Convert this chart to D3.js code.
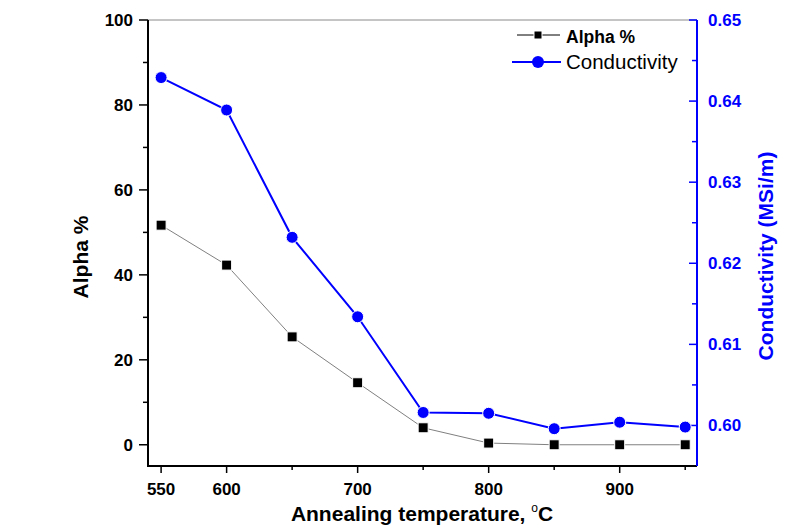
<!DOCTYPE html>
<html>
<head>
<meta charset="utf-8">
<script src="https://cdn.jsdelivr.net/npm/d3@7"></script>
<style>
  html, body { margin: 0; padding: 0; background: #ffffff; }
  svg { display: block; font-family: "Liberation Sans", Arial, sans-serif; }
</style>
</head>
<body>
<svg id="chart" width="787" height="529"></svg>
<script>
// Annealing temperature (°C)
const temperatures = [550, 600, 650, 700, 750, 800, 850, 900, 950];
// Alpha phase fraction (%)
const alphaPercent = [51.7, 42.3, 25.4, 14.6, 4.0, 0.4, 0.0, 0.0, 0.0];
// Electrical conductivity (MSi/m)
const conductivity = [0.6429, 0.6389, 0.6232, 0.6134, 0.6016, 0.6015, 0.5996, 0.6004, 0.5998];

const xLabelTicks = [550, 600, 700, 800, 900];
const xShortTicks = [650, 750, 850, 950];
const yLeftMajor = [0, 20, 40, 60, 80, 100];
const yLeftMinor = [10, 30, 50, 70, 90];
const yRightMajor = [0.60, 0.61, 0.62, 0.63, 0.64, 0.65];
const yRightMinor = [0.605, 0.615, 0.625, 0.635, 0.645];

const svg = d3.select("#chart");
const pL = 148, pR = 697, pT = 20, pB = 466;
const BLUE = "#0000ff";

const x = d3.scaleLinear().domain([540, 959]).range([pL, pR]);
const yL = d3.scaleLinear().domain([-5, 100]).range([pB, pT]);
const yR = d3.scaleLinear().domain([0.595, 0.65]).range([pB, pT]);

svg.append("rect").attr("width", 787).attr("height", 529).attr("fill", "#ffffff");

// frame top line
svg.append("line").attr("x1", pL).attr("x2", pR).attr("y1", pT).attr("y2", pT)
  .attr("stroke", "#8a8a8a").attr("stroke-width", 1);

// bottom axis
const gx = svg.append("g");
gx.append("line").attr("x1", pL - 1).attr("x2", pR).attr("y1", pB).attr("y2", pB)
  .attr("stroke", "#000").attr("stroke-width", 2);
gx.selectAll("line.maj").data(xLabelTicks).join("line").attr("class", "maj")
  .attr("x1", d => x(d)).attr("x2", d => x(d)).attr("y1", pB).attr("y2", pB + 7)
  .attr("stroke", "#000").attr("stroke-width", 1.5);
gx.selectAll("line.min").data(xShortTicks).join("line").attr("class", "min")
  .attr("x1", d => x(d)).attr("x2", d => x(d)).attr("y1", pB).attr("y2", pB + 4)
  .attr("stroke", "#000").attr("stroke-width", 1.5);
gx.selectAll("text").data(xLabelTicks).join("text")
  .attr("x", d => x(d)).attr("y", 495).attr("text-anchor", "middle")
  .attr("font-size", 17).attr("font-weight", "bold").attr("fill", "#000")
  .text(d => d);

// left axis
const gl = svg.append("g");
gl.append("line").attr("x1", pL).attr("x2", pL).attr("y1", pT).attr("y2", pB + 1)
  .attr("stroke", "#000").attr("stroke-width", 2);
gl.selectAll("line.maj").data(yLeftMajor).join("line").attr("class", "maj")
  .attr("x1", pL - 9).attr("x2", pL).attr("y1", d => yL(d)).attr("y2", d => yL(d))
  .attr("stroke", "#000").attr("stroke-width", 1.5);
gl.selectAll("line.min").data(yLeftMinor).join("line").attr("class", "min")
  .attr("x1", pL - 5).attr("x2", pL).attr("y1", d => yL(d)).attr("y2", d => yL(d))
  .attr("stroke", "#000").attr("stroke-width", 1.5);
gl.selectAll("text").data(yLeftMajor).join("text")
  .attr("x", 133).attr("y", d => yL(d) + 6).attr("text-anchor", "end")
  .attr("font-size", 17).attr("font-weight", "bold").attr("fill", "#000")
  .text(d => d);
svg.append("text")
  .attr("transform", "translate(88,257) rotate(-90)")
  .attr("text-anchor", "middle").attr("font-size", 21).attr("font-weight", "bold")
  .attr("fill", "#000").text("Alpha %");

// right axis
const gr = svg.append("g");
gr.append("line").attr("x1", pR).attr("x2", pR).attr("y1", pT).attr("y2", pB)
  .attr("stroke", BLUE).attr("stroke-width", 2);
gr.selectAll("line.maj").data(yRightMajor).join("line").attr("class", "maj")
  .attr("x1", pR - 8).attr("x2", pR).attr("y1", d => yR(d)).attr("y2", d => yR(d))
  .attr("stroke", BLUE).attr("stroke-width", 1.5);
gr.selectAll("line.min").data(yRightMinor).join("line").attr("class", "min")
  .attr("x1", pR - 5).attr("x2", pR).attr("y1", d => yR(d)).attr("y2", d => yR(d))
  .attr("stroke", BLUE).attr("stroke-width", 1.5);
gr.selectAll("text").data(yRightMajor).join("text")
  .attr("x", 708).attr("y", d => yR(d) + 6).attr("text-anchor", "start")
  .attr("font-size", 17).attr("font-weight", "bold").attr("fill", BLUE)
  .text(d => d3.format(".2f")(d));
svg.append("text")
  .attr("transform", "translate(773,256) rotate(-90)")
  .attr("text-anchor", "middle").attr("font-size", 21).attr("font-weight", "bold")
  .attr("fill", BLUE).text("Conductivity (MSi/m)");

// x axis title
const xt = svg.append("text").attr("x", 422).attr("y", 521).attr("text-anchor", "middle")
  .attr("font-size", 21).attr("font-weight", "bold").attr("fill", "#000");
xt.append("tspan").text("Annealing temperature, ");
xt.append("tspan").attr("font-size", 12).attr("font-weight", "normal").attr("dy", -9).text("o");
xt.append("tspan").attr("dy", 9).text("C");

// alpha series
const alphaPts = temperatures.map((t, i) => [t, alphaPercent[i]]);
svg.append("path").datum(alphaPts)
  .attr("d", d3.line().x(d => x(d[0])).y(d => yL(d[1])))
  .attr("fill", "none").attr("stroke", "#808080").attr("stroke-width", 1);
svg.selectAll("rect.alpha").data(alphaPts).join("rect").attr("class", "alpha")
  .attr("x", d => x(d[0]) - 5).attr("y", d => yL(d[1]) - 5)
  .attr("width", 10).attr("height", 10).attr("fill", "#000")
  .attr("stroke", "#fff").attr("stroke-width", 1);

// conductivity series
const condPts = temperatures.map((t, i) => [t, conductivity[i]]);
svg.append("path").datum(condPts)
  .attr("d", d3.line().x(d => x(d[0])).y(d => yR(d[1])))
  .attr("fill", "none").attr("stroke", BLUE).attr("stroke-width", 2);
svg.selectAll("circle.cond").data(condPts).join("circle").attr("class", "cond")
  .attr("cx", d => x(d[0])).attr("cy", d => yR(d[1])).attr("r", 6)
  .attr("fill", BLUE).attr("stroke", "#fff").attr("stroke-width", 1);

// legend
const lg = svg.append("g");
lg.append("line").attr("x1", 517).attr("x2", 560).attr("y1", 35).attr("y2", 35)
  .attr("stroke", "#000").attr("stroke-width", 1);
lg.append("rect").attr("x", 534).attr("y", 31).attr("width", 8).attr("height", 8).attr("fill", "#000")
  .attr("stroke", "#fff").attr("stroke-width", 1);
lg.append("text").attr("x", 566).attr("y", 42.5).attr("font-size", 17.5).attr("font-weight", "bold")
  .attr("fill", "#000").text("Alpha %");
lg.append("line").attr("x1", 512).attr("x2", 561).attr("y1", 62).attr("y2", 62)
  .attr("stroke", BLUE).attr("stroke-width", 2);
lg.append("circle").attr("cx", 538).attr("cy", 62).attr("r", 6).attr("fill", BLUE);
lg.append("text").attr("x", 566).attr("y", 68.5).attr("font-size", 20.5)
  .attr("fill", "#000").text("Conductivity");
</script>
</body>
</html>
